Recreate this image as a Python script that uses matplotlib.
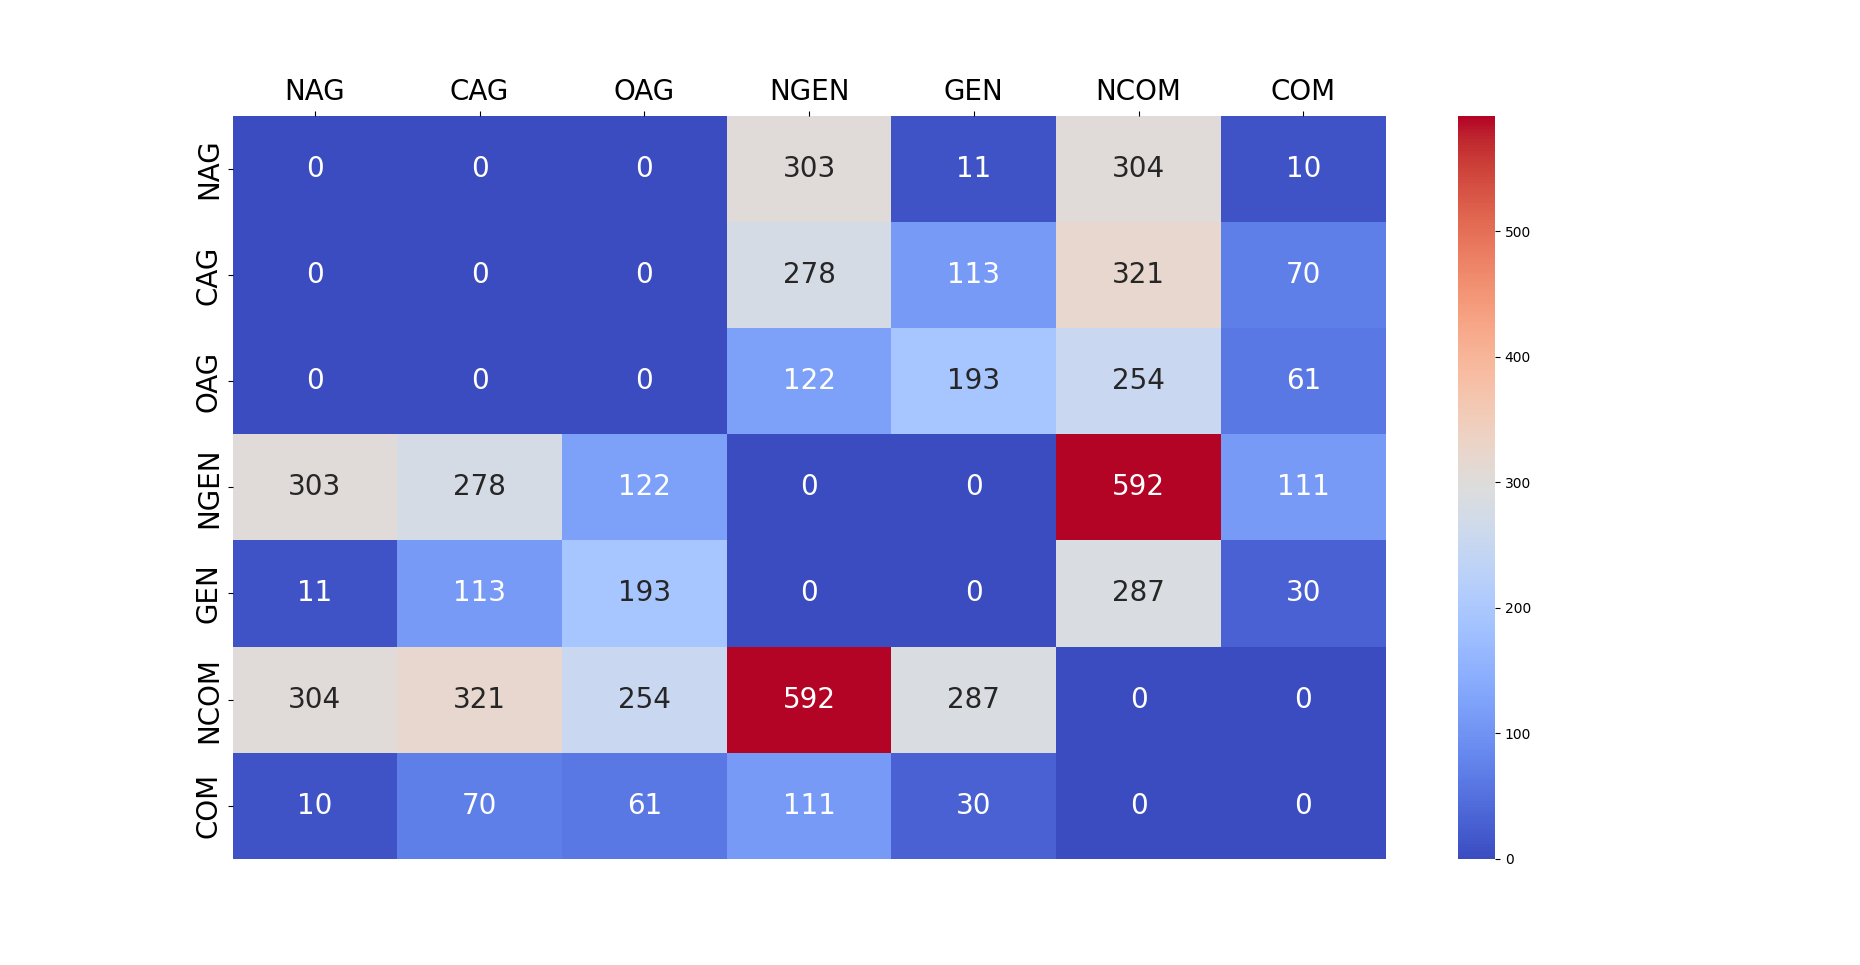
import numpy as np
import pandas as pd
import matplotlib
matplotlib.use('Agg')
import matplotlib.pyplot as plt
import seaborn as sns

labels = ['NAG', 'CAG', 'OAG', 'NGEN', 'GEN', 'NCOM', 'COM']

row_nag = [0, 0, 0, 303, 11, 304, 10]
row_cag = [0, 0, 0, 278, 113, 321, 70]
row_oag = [0, 0, 0, 122, 193, 254, 61]
row_ngen = [303, 278, 122, 0, 0, 592, 111]
row_gen = [11, 113, 193, 0, 0, 287, 30]
row_ncom = [304, 321, 254, 592, 287, 0, 0]
row_com = [10, 70, 61, 111, 30, 0, 0]


def main():
    matrix = pd.DataFrame(
        [row_nag, row_cag, row_oag, row_ngen, row_gen, row_ncom, row_com],
        index=labels, columns=labels,
    )

    fig, ax = plt.subplots(figsize=(18.6, 9.65), dpi=100)
    sns.heatmap(matrix, annot=True, fmt='d', cmap='coolwarm',
                annot_kws={'size': 20}, ax=ax)
    ax.xaxis.tick_top()
    ax.tick_params(axis='both', labelsize=20)
    plt.setp(ax.get_yticklabels(), rotation=90, va='center')
    fig.savefig('out.png', dpi=100)
    plt.close(fig)


if __name__ == '__main__':
    main()
